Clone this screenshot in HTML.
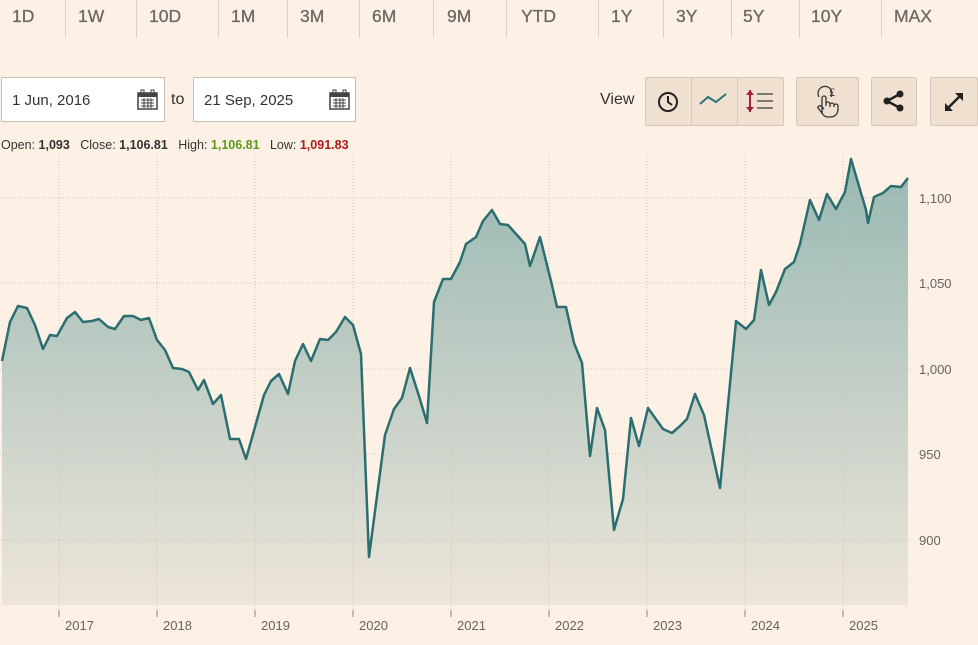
<!DOCTYPE html>
<html><head><meta charset="utf-8"><style>
body{margin:0;width:978px;height:645px;background:#fdf1e6;font-family:"Liberation Sans",Arial,sans-serif;position:relative;overflow:hidden}
.tab{position:absolute;top:6px;font-size:17.5px;color:#6e6763;-webkit-text-stroke:0.3px #6e6763}
.sep{position:absolute;top:0;width:1px;height:38px;background:#ddd0c4}
.box{position:absolute;top:77px;height:45px;background:#fff;border:1px solid #c8beb6;box-sizing:border-box;font-size:15px;color:#333;line-height:45px;padding-left:10px}
.btn{position:absolute;top:77px;height:49px;background:#f0e0d0;border:1px solid #d8c8b8;box-sizing:border-box;border-radius:2px}
.ohlc{position:absolute;top:138px;left:1px;font-size:12.5px;color:#333}
.ohlc b{font-weight:bold}
</style></head><body>
<div class="tab" style="left:12px">1D</div><div class="sep" style="left:65px"></div>
<div class="tab" style="left:78px">1W</div><div class="sep" style="left:136px"></div>
<div class="tab" style="left:149px">10D</div><div class="sep" style="left:218px"></div>
<div class="tab" style="left:231px">1M</div><div class="sep" style="left:287px"></div>
<div class="tab" style="left:300px">3M</div><div class="sep" style="left:359px"></div>
<div class="tab" style="left:372px">6M</div><div class="sep" style="left:433px"></div>
<div class="tab" style="left:447px">9M</div><div class="sep" style="left:506px"></div>
<div class="tab" style="left:521px">YTD</div><div class="sep" style="left:598px"></div>
<div class="tab" style="left:611px">1Y</div><div class="sep" style="left:663px"></div>
<div class="tab" style="left:676px">3Y</div><div class="sep" style="left:731px"></div>
<div class="tab" style="left:743px">5Y</div><div class="sep" style="left:799px"></div>
<div class="tab" style="left:811px">10Y</div><div class="sep" style="left:881px"></div>
<div class="tab" style="left:894px">MAX</div>

<div class="box" style="left:1px;width:164px">1 Jun, 2016</div>
<div class="box" style="left:193px;width:163px">21 Sep, 2025</div>
<svg style="position:absolute;left:137px;top:89px" width="21" height="21"><rect x="1" y="4" width="19" height="16" fill="none" stroke="#444" stroke-width="1.5"/><rect x="1" y="4" width="19" height="4" fill="#444"/><path d="M4 11h13M4 14h13M4 17h13M7 9v10M11 9v10M14 9v10" stroke="#444"/><rect x="4" y="1" width="3" height="5" fill="none" stroke="#444"/><rect x="14" y="1" width="3" height="5" fill="none" stroke="#444"/></svg>
<svg style="position:absolute;left:329px;top:89px" width="21" height="21"><rect x="1" y="4" width="19" height="16" fill="none" stroke="#444" stroke-width="1.5"/><rect x="1" y="4" width="19" height="4" fill="#444"/><path d="M4 11h13M4 14h13M4 17h13M7 9v10M11 9v10M14 9v10" stroke="#444"/><rect x="4" y="1" width="3" height="5" fill="none" stroke="#444"/><rect x="14" y="1" width="3" height="5" fill="none" stroke="#444"/></svg>
<div style="position:absolute;left:171px;top:91px;font-size:16px;color:#333">to</div>

<div style="position:absolute;left:600px;top:91px;font-size:16px;color:#333">View</div>
<div class="btn" style="left:645px;width:139px"></div>
<div style="position:absolute;left:691px;top:78px;width:1px;height:47px;background:#d8c8b8"></div>
<div style="position:absolute;left:737px;top:78px;width:1px;height:47px;background:#d8c8b8"></div>
<svg style="position:absolute;left:657px;top:91px" width="22" height="22"><circle cx="11" cy="11" r="9" fill="none" stroke="#222" stroke-width="2"/><path d="M11 5v6l4 3" fill="none" stroke="#222" stroke-width="2"/></svg>
<svg style="position:absolute;left:699px;top:90px" width="30" height="22"><path d="M1 14l8-7 8 5 10-8" fill="none" stroke="#2c7377" stroke-width="2"/></svg>
<svg style="position:absolute;left:745px;top:88px" width="32" height="28"><path d="M5 2v22" stroke="#a3213e" stroke-width="2"/><path d="M1 7l4-5 4 5zM1 19l4 5 4-5z" fill="#a3213e"/><path d="M12 6h16M12 13h16M12 20h16" stroke="#555" stroke-width="1.5"/></svg>
<div class="btn" style="left:796px;width:63px"></div>
<svg style="position:absolute;left:814px;top:84px" width="28" height="34"><path d="M8 30V14a2 2 0 0 1 4 0v8M12 20a2 2 0 0 1 4 0v3M16 21a2 2 0 0 1 4 0v2M20 22a2 2 0 0 1 4 0v3c0 5-3 8-8 8h-2c-3 0-5-2-6-4l-4-5a2 2 0 0 1 3-2l3 3" fill="none" stroke="#333" stroke-width="1.3"/><path d="M5 13a7 7 0 1 1 12 0" fill="none" stroke="#333" stroke-width="1.2"/><text x="15" y="12" font-size="12" fill="#333" font-family="Liberation Serif,serif">£</text></svg>
<div class="btn" style="left:871px;width:46px"></div>
<svg style="position:absolute;left:883px;top:90px" width="22" height="22"><circle cx="4" cy="11" r="3.5" fill="#222"/><circle cx="17" cy="4" r="3.5" fill="#222"/><circle cx="17" cy="18" r="3.5" fill="#222"/><path d="M4 11L17 4M4 11l13 7" stroke="#222" stroke-width="2.5"/></svg>
<div class="btn" style="left:930px;width:48px"></div>
<svg style="position:absolute;left:942px;top:90px" width="24" height="24"><path d="M4 20L20 4" stroke="#222" stroke-width="2.5"/><path d="M13 3h8v8zM3 13v8h8z" fill="#222"/></svg>

<div class="ohlc">Open: <b>1,093</b>&nbsp;&nbsp;&nbsp;Close: <b>1,106.81</b>&nbsp;&nbsp;&nbsp;High: <b style="color:#5b9a1c">1,106.81</b>&nbsp;&nbsp;&nbsp;Low: <b style="color:#b01a1a">1,091.83</b></div>

<svg style="position:absolute;left:0;top:0" width="978" height="645">
<defs><linearGradient id="g" x1="0" y1="0" x2="0" y2="1"><stop offset="0" stop-color="#97b8b2"/><stop offset="1" stop-color="#ede5da"/></linearGradient></defs>
<polygon fill="url(#g)" points="2,605 2,361 10,322 18,306 27,308 35,325 43,349 50,335 57,336 67,318 75,312 83,322 92,321 99,319 108,327 115,329 124,316 133,316 141,320 149,318 157,340 165,350 173,368 182,369 189,372 198,390 204,380 213,404 221,395 230,439 239,439 246,459 255,427 264,395 271,381 279,374 288,394 295,361 303,344 311,361 320,339 328,340 336,332 345,317 353,325 361,354 369,557 385,435 394,409 402,398 410,368 419,396 427,423 434,302 443,279 451,279 460,262 466,244 476,237 483,221 492,210 500,224 508,225 525,244 530,266 540,237 551,281 557,307 566,307 574,343 582,363 590,456 597,408 605,430 614,530 623,499 631,418 639,446 648,408 663,429 672,433 680,426 687,419 695,394 704,415 720,488 736,321 746,329 754,320 761,270 769,305 776,292 785,269 794,262 800,244 810,200 819,220 827,194 836,209 845,192 851,159 866,210 868,223 874,197 883,193 891,186 901,187 908,178 908,605"/>
<g stroke="#cfc2b6" stroke-dasharray="1,2" stroke-width="1">
<path d="M0 198H910M0 283H910M0 369H910M0 454H910M0 540H910"/>
<path d="M59 155V610M157 155V610M255 155V610M353 155V610M451 155V610M549 155V610M647 155V610M745 155V610M843 155V610"/>
</g>
<polyline fill="none" stroke="#2b6e70" stroke-width="2.5" stroke-linejoin="round" points="2,361 10,322 18,306 27,308 35,325 43,349 50,335 57,336 67,318 75,312 83,322 92,321 99,319 108,327 115,329 124,316 133,316 141,320 149,318 157,340 165,350 173,368 182,369 189,372 198,390 204,380 213,404 221,395 230,439 239,439 246,459 255,427 264,395 271,381 279,374 288,394 295,361 303,344 311,361 320,339 328,340 336,332 345,317 353,325 361,354 369,557 385,435 394,409 402,398 410,368 419,396 427,423 434,302 443,279 451,279 460,262 466,244 476,237 483,221 492,210 500,224 508,225 525,244 530,266 540,237 551,281 557,307 566,307 574,343 582,363 590,456 597,408 605,430 614,530 623,499 631,418 639,446 648,408 663,429 672,433 680,426 687,419 695,394 704,415 720,488 736,321 746,329 754,320 761,270 769,305 776,292 785,269 794,262 800,244 810,200 819,220 827,194 836,209 845,192 851,159 866,210 868,223 874,197 883,193 891,186 901,187 908,178"/>
<g fill="#6a625e" font-size="13" font-family="Liberation Sans,Arial,sans-serif">
<text x="919" y="203">1,100</text><text x="919" y="288">1,050</text><text x="919" y="374">1,000</text><text x="919" y="459">950</text><text x="919" y="545">900</text>
</g>
<g stroke="#888" stroke-width="1"><path d="M59 610v7M157 610v7M255 610v7M353 610v7M451 610v7M549 610v7M647 610v7M745 610v7M843 610v7"/></g>
<g fill="#6a625e" font-size="13" font-family="Liberation Sans,Arial,sans-serif">
<text x="65" y="630">2017</text><text x="163" y="630">2018</text><text x="261" y="630">2019</text><text x="359" y="630">2020</text><text x="457" y="630">2021</text><text x="555" y="630">2022</text><text x="653" y="630">2023</text><text x="751" y="630">2024</text><text x="849" y="630">2025</text>
</g>
</svg>
</body></html>
